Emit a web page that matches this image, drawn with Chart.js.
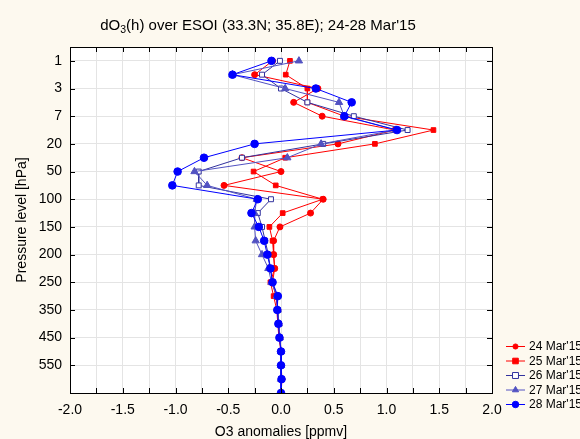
<!DOCTYPE html>
<html>
<head>
<meta charset="utf-8">
<script src="https://cdn.jsdelivr.net/npm/chart.js@4"></script>
<style>
html,body{margin:0;padding:0;background:#fdf9ef;}
#wrap{width:580px;height:439px;position:relative;}
</style>
</head>
<body>
<div id="wrap"><canvas id="c" width="580" height="439"></canvas></div>
<script>
// Pressure levels (hPa), top to bottom
const levels = ['1','2','3','5','7','10','20','30','50','70','100','125','150','175','200','225','250','300','350','400','450','500','550','600','650'];
// tick labels shown on the y axis
const yTickLabels = ['1','3','7','20','50','100','150','200','250','350','450','550'];
const seriesNames = ["24 Mar'15","25 Mar'15","26 Mar'15","27 Mar'15","28 Mar'15"];
// O3 anomalies [ppmv]
const mar24 = [-0.08,-0.25,0.35,0.12,0.39,1.08,0.54,-0.37,0.00,-0.54,0.40,0.28,-0.01,-0.07,-0.07,-0.06,-0.08,-0.05,-0.03,-0.02,-0.01,0.00,0.00,0.01,0.00];
const mar25 = [0.085,0.045,0.25,0.25,0.60,1.445,0.89,0.04,-0.26,-0.05,0.395,0.016,-0.11,-0.08,-0.07,-0.06,-0.10,-0.07,-0.04,-0.03,-0.02,0.00,0.00,0.00,0.00];
const mar26 = [-0.01,-0.18,0.00,0.25,0.69,1.20,0.40,-0.37,-0.78,-0.78,-0.095,-0.22,-0.18,-0.15,-0.12,-0.10,-0.08,-0.04,-0.03,-0.02,-0.01,0.00,0.00,0.00,0.00];
const mar27 = [0.17,-0.46,0.04,0.55,0.60,1.09,0.38,0.06,-0.82,-0.70,-0.23,-0.25,-0.25,-0.24,-0.18,-0.12,-0.09,-0.04,-0.03,-0.02,-0.01,0.00,0.00,0.00,0.00];
const mar28 = [-0.09,-0.46,0.33,0.67,0.60,1.10,-0.25,-0.73,-0.98,-1.03,-0.22,-0.28,-0.21,-0.16,-0.13,-0.10,-0.08,-0.03,-0.035,-0.025,-0.015,0.00,0.00,0.005,0.00];

const FONT = "'Liberation Sans', Arial, sans-serif";
const toPts = arr => arr.map((v,i)=>({x:v,y:i}));
const styles = [
  {c:'#ff0000', bg:'#ff0000', ps:'circle', r:3},
  {c:'#ff0000', bg:'#ff0000', ps:'rect', r:3.3},
  {c:'#32329e', bg:'#ffffff', ps:'rect', r:3.5},
  {c:'#5252c2', bg:'#5252c2', ps:'triangle', r:4.2},
  {c:'#0000ff', bg:'#0000ff', ps:'circle', r:3.8}
];
const seriesData = [mar24, mar25, mar26, mar27, mar28];
const datasets = seriesData.map((d,k)=>({
  label: seriesNames[k],
  data: toPts(d),
  showLine: true,
  order: 4 - k,
  borderColor: styles[k].c,
  backgroundColor: styles[k].bg,
  pointBorderColor: styles[k].c,
  pointBackgroundColor: styles[k].bg,
  pointStyle: styles[k].ps,
  pointRadius: styles[k].r,
  pointBorderWidth: 1,
  borderWidth: 1,
  tension: 0
}));

const decor = {
  id:'decor',
  beforeDraw(chart){
    const ctx = chart.ctx, a = chart.chartArea;
    ctx.save();
    ctx.fillStyle = '#fdf9ef';
    ctx.fillRect(0,0,chart.width,chart.height);
    ctx.fillStyle = '#ffffff';
    ctx.fillRect(a.left,a.top,a.right-a.left,a.bottom-a.top);
    ctx.restore();
  },
  afterDraw(chart){
    const ctx = chart.ctx, a = chart.chartArea;
    const xs = chart.scales.x, ys = chart.scales.y;
    ctx.save();
    // frame
    ctx.strokeStyle = '#000';
    ctx.lineWidth = 1;
    ctx.strokeRect(Math.round(a.left)+0.5, Math.round(a.top)+0.5, Math.round(a.right-a.left), Math.round(a.bottom-a.top));
    // inward ticks
    ctx.beginPath();
    xs.ticks.forEach(t=>{
      const px = Math.round(xs.getPixelForValue(t.value))+0.5;
      ctx.moveTo(px,a.top); ctx.lineTo(px,a.top+5);
      ctx.moveTo(px,a.bottom); ctx.lineTo(px,a.bottom-5);
    });
    ys.ticks.forEach(t=>{
      const py = Math.round(ys.getPixelForValue(t.value))+0.5;
      ctx.moveTo(a.left,py); ctx.lineTo(a.left+5,py);
      ctx.moveTo(a.right,py); ctx.lineTo(a.right-5,py);
    });
    ctx.stroke();
    // title with subscript
    ctx.fillStyle = '#000';
    ctx.textBaseline = 'alphabetic';
    const big = '15px ' + FONT, small = '10.5px ' + FONT;
    const p1 = 'dO', p2 = '3', p3 = "(h) over ESOI (33.3N; 35.8E); 24-28 Mar'15";
    ctx.font = big; const w1 = ctx.measureText(p1).width, w3 = ctx.measureText(p3).width;
    ctx.font = small; const w2 = ctx.measureText(p2).width;
    let x0 = 258 - (w1+w2+w3)/2, by = 30;
    ctx.font = big; ctx.textAlign='left'; ctx.fillText(p1,x0,by);
    ctx.font = small; ctx.fillText(p2,x0+w1,by+3);
    ctx.font = big; ctx.fillText(p3,x0+w1+w2,by);
    // axis titles
    ctx.font = '14px ' + FONT;
    ctx.textAlign = 'center'; ctx.textBaseline = 'middle';
    ctx.fillText('O3 anomalies [ppmv]', (a.left+a.right)/2, 432);
    ctx.save();
    ctx.translate(22, (a.top+a.bottom)/2);
    ctx.rotate(-Math.PI/2);
    ctx.fillText('Pressure level [hPa]', 0, 0);
    ctx.restore();
    // legend
    const rowY = [346, 360.5, 375, 389.5, 404];
    chart.data.datasets.forEach((ds,k)=>{
      const y = rowY[k] + 0.5, cx = 515.5;
      ctx.strokeStyle = ds.borderColor; ctx.lineWidth = 1;
      ctx.beginPath(); ctx.moveTo(506,y); ctx.lineTo(525,y); ctx.stroke();
      ctx.fillStyle = ds.pointBackgroundColor; ctx.strokeStyle = ds.pointBorderColor;
      const r = ds.pointRadius * 0.85;
      ctx.beginPath();
      if (ds.pointStyle==='circle') ctx.arc(cx,y,r,0,Math.PI*2);
      else if (ds.pointStyle==='rect') ctx.rect(cx-r,y-r,r*2,r*2);
      else { ctx.moveTo(cx,y-r); ctx.lineTo(cx+r*0.87,y+r*0.5); ctx.lineTo(cx-r*0.87,y+r*0.5); ctx.closePath(); }
      ctx.fill(); ctx.stroke();
      ctx.fillStyle = '#000';
      ctx.font = '12px ' + FONT; ctx.textAlign='left'; ctx.textBaseline='middle';
      ctx.fillText(ds.label, 529, y+0.5);
    });
    ctx.restore();
  }
};

new Chart(document.getElementById('c'), {
  type: 'scatter',
  data: { datasets },
  options: {
    responsive: false,
    animation: false,
    layout: { padding: { top: 47, right: 88, left: 0, bottom: 0 } },
    plugins: { legend: { display: false }, tooltip: { enabled: false } },
    scales: {
      x: {
        type: 'linear', min: -2, max: 2,
        afterFit: s => { s.height = 46; },
        border: { display: false },
        grid: { color: '#e4e4e4', drawTicks: false, lineWidth: 1 },
        ticks: {
          stepSize: 0.25, autoSkip: false, maxRotation: 0, padding: 9,
          color: '#000', font: { family: FONT, size: 14 },
          callback: v => (Math.abs(v*2 - Math.round(v*2)) < 1e-6) ? v.toFixed(1) : ''
        }
      },
      y: {
        type: 'linear', reverse: true, min: -1, max: 24,
        afterFit: s => { s.width = 70; },
        afterBuildTicks: s => { s.ticks = yTickLabels.map(l => ({ value: levels.indexOf(l) })); },
        border: { display: false },
        grid: { color: '#e4e4e4', drawTicks: false, lineWidth: 1 },
        ticks: {
          autoSkip: false, padding: 8,
          color: '#000', font: { family: FONT, size: 14 },
          callback: v => levels[v]
        }
      }
    }
  },
  plugins: [decor]
});
</script>
</body>
</html>
